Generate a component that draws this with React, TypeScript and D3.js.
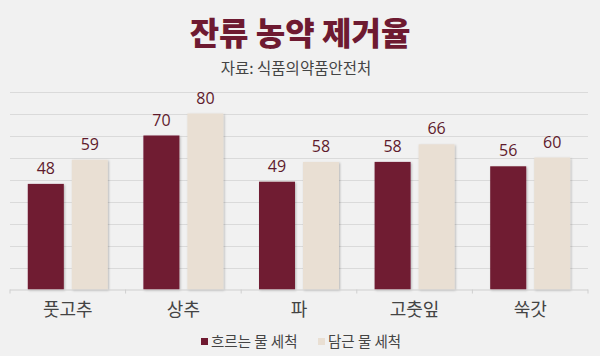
import React from "react";
import * as d3 from "d3";

const categories = ["풋고추", "상추", "파", "고춧잎", "쑥갓"];
const seriesNames = ["흐르는 물 세척", "담근 물 세척"];
const runningWater = [48, 70, 49, 58, 56];
const soakedWater = [59, 80, 58, 66, 60];
const yTicks = [0, 10, 20, 30, 40, 50, 60, 70, 80, 90];
const title = "잔류 농약 제거율";
const subtitle = "자료: 식품의약품안전처";

const W = 600;
const H = 356;
const colors = ["#6f1a30", "#e9dfd3"];
const KR = "'Noto Sans CJK KR', 'Noto Sans', sans-serif";
const NUM = "'Open Sans', 'Noto Sans', sans-serif";

export default function App() {
  const left = 10, right = 588, top = 91.5, bottom = 289.5;
  const x0 = d3.scaleBand<string>().domain(categories).range([left, right]).padding(0);
  const bw = x0.bandwidth();
  const gap = 8, barW = 36;
  const step = barW + gap;
  const pi = gap / step;
  const po = (bw - 2 * barW - gap) / 2 / step;
  const x1 = d3.scaleBand<string>().domain(seriesNames).range([0, bw]).paddingInner(pi).paddingOuter(po);
  const y = d3.scaleLinear().domain([0, 90]).range([bottom, top]);
  const data = [runningWater, soakedWater];

  return (
    <svg width={W} height={H} style={{ position: "absolute", left: 0, top: 0, display: "block", background: "#f1f1f1" }}>
      <defs>
        <filter id="sh" x="-20%" y="-20%" width="140%" height="140%">
          <feDropShadow dx="1" dy="1" stdDeviation="0.8" floodColor="#000" floodOpacity="0.25" />
        </filter>
      </defs>
      <rect x={0} y={0} width={W} height={H} fill="#f1f1f1" />
      <text x={300} y={45} textAnchor="middle" fontFamily={KR} fontWeight={900} fontSize={32} fill="#6e1a31">{title}</text>
      <text x={296} y={74} textAnchor="middle" fontFamily={KR} fontSize={15.5} fill="#444">{subtitle}</text>
      {yTicks.slice(1).map((t) => (
        <line key={t} x1={left} x2={right} y1={Math.round(y(t)) + 0.5} y2={Math.round(y(t)) + 0.5} stroke="#dadada" strokeWidth={1.2} />
      ))}
      {categories.map((c, i) =>
        data.map((s, j) => {
          const v = s[i];
          const bx = (x0(c) as number) + (x1(seriesNames[j]) as number);
          return (
            <g key={c + j}>
              <rect x={bx} y={y(v)} width={x1.bandwidth()} height={bottom - y(v)} fill={colors[j]} filter="url(#sh)" />
              <text x={bx + x1.bandwidth() / 2} y={y(v) - 10} textAnchor="middle" fontFamily={NUM} fontSize={16} fill="#5e1a2c">{v}</text>
            </g>
          );
        })
      )}
      <line x1={left} x2={right} y1={bottom + 0.5} y2={bottom + 0.5} stroke="#cfcfcf" strokeWidth={1} />
      {[...categories.map((c) => x0(c) as number), right].map((tx, i) => (
        <line key={i} x1={tx} x2={tx} y1={bottom} y2={bottom + 4} stroke="#cfcfcf" strokeWidth={1} />
      ))}
      {categories.map((c) => (
        <text key={c} x={(x0(c) as number) + bw / 2} y={316} textAnchor="middle" fontFamily={KR} fontSize={18} fill="#444">{c}</text>
      ))}
      <g>
        <rect x={201} y={338} width={7} height={7} fill={colors[0]} />
        <text x={211} y={346.5} fontFamily={KR} fontSize={14.5} fill="#444">{seriesNames[0]}</text>
        <rect x={318} y={338} width={7} height={7} fill={colors[1]} />
        <text x={328} y={346.5} fontFamily={KR} fontSize={14.5} fill="#444">{seriesNames[1]}</text>
      </g>
    </svg>
  );
}
